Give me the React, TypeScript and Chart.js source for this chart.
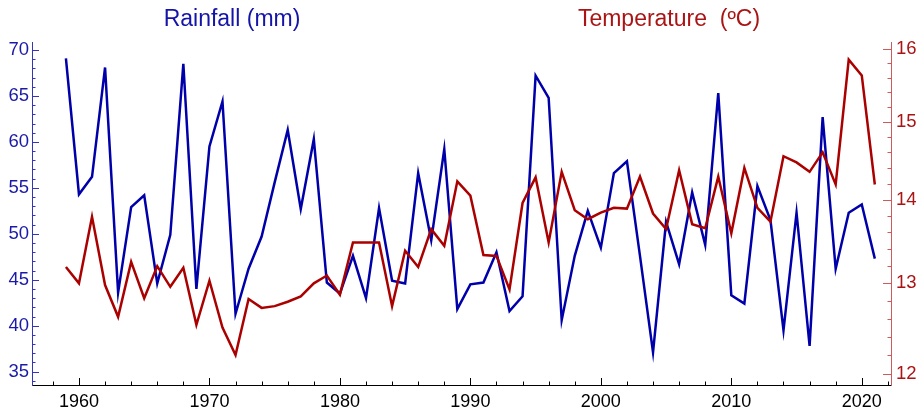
import React, { useEffect, useRef } from "react";
import { Chart, registerables } from "chart.js";

Chart.register(...registerables);

const YEARS = [
  1959, 1960, 1961, 1962, 1963, 1964, 1965, 1966, 1967, 1968,
  1969, 1970, 1971, 1972, 1973, 1974, 1975, 1976, 1977, 1978,
  1979, 1980, 1981, 1982, 1983, 1984, 1985, 1986, 1987, 1988,
  1989, 1990, 1991, 1992, 1993, 1994, 1995, 1996, 1997, 1998,
  1999, 2000, 2001, 2002, 2003, 2004, 2005, 2006, 2007, 2008,
  2009, 2010, 2011, 2012, 2013, 2014, 2015, 2016, 2017, 2018,
  2019, 2020, 2021,
];

const RAINFALL = [
  69.1, 54.3, 56.2, 68.1, 43.6, 52.9, 54.2, 44.6, 49.9, 68.5,
  44.0, 59.5, 64.4, 41.3, 46.2, 49.7, 55.6, 61.3, 52.7, 60.3,
  44.7, 43.5, 47.6, 43.0, 52.8, 44.9, 44.6, 56.6, 49.3, 59.2,
  41.8, 44.5, 44.7, 48.0, 41.6, 43.2, 67.2, 64.8, 40.6, 47.6,
  52.5, 48.5, 56.6, 57.9, 47.6, 37.1, 51.3, 46.7, 54.5, 48.8,
  65.3, 43.3, 42.4, 55.2, 51.5, 39.5, 52.3, 37.8, 62.7, 46.2,
  52.3, 53.2, 47.3,
];

const TEMPERATURE = [
  13.19, 13.0, 13.79, 12.98, 12.62, 13.25, 12.83, 13.2, 12.96, 13.18,
  12.53, 13.03, 12.5, 12.2, 12.82, 12.72, 12.74, 12.79, 12.85, 13.0,
  13.09, 12.87, 13.48, 13.48, 13.48, 12.74, 13.38, 13.19, 13.64, 13.44,
  14.23, 14.05, 13.33, 13.32, 12.93, 13.96, 14.28, 13.48, 14.35, 13.87,
  13.76, 13.84, 13.9, 13.89, 14.29, 13.83, 13.64, 14.37, 13.7, 13.65,
  14.29, 13.59, 14.4, 13.9, 13.73, 14.55, 14.47, 14.35, 14.6, 14.19,
  15.85, 15.63, 14.19,
];

const X_MAJOR = [1960, 1970, 1980, 1990, 2000, 2010, 2020];
const X_MINOR = [1958, 1962, 1964, 1966, 1968, 1972, 1974, 1976, 1978, 1982, 1984, 1986, 1988, 1992, 1994, 1996, 1998, 2002, 2004, 2006, 2008, 2012, 2014, 2016, 2018, 2022];
const RAIN_MAJOR = [35, 40, 45, 50, 55, 60, 65, 70];
const RAIN_MINOR = [34, 36, 37, 38, 39, 41, 42, 43, 44, 46, 47, 48, 49, 51, 52, 53, 54, 56, 57, 58, 59, 61, 62, 63, 64, 66, 67, 68, 69];
const TEMP_MAJOR = [12, 13, 14, 15, 16];
const TEMP_MINOR = [12.2, 12.4, 12.6, 12.8, 13.2, 13.4, 13.6, 13.8, 14.2, 14.4, 14.6, 14.8, 15.2, 15.4, 15.6, 15.8];

const BLUE = "#0000aa";
const RED = "#aa0000";
const FONT = "'Liberation Sans', Arial, sans-serif";

const tickPlugin = {
  id: "innerTicks",
  afterDraw(chart: any) {
    const ctx = chart.ctx;
    const area = chart.chartArea;
    const sx = chart.scales.x;
    const sy = chart.scales.y;
    const sy1 = chart.scales.y1;
    ctx.save();
    ctx.lineWidth = 1;
    ctx.strokeStyle = "#000000";
    const drawX = (vals: number[], len: number) => {
      vals.forEach((v) => {
        const px = Math.round(sx.getPixelForValue(v)) + 0.5;
        ctx.beginPath();
        ctx.moveTo(px, area.bottom);
        ctx.lineTo(px, area.bottom - len);
        ctx.stroke();
      });
    };
    drawX(X_MAJOR, 7);
    drawX(X_MINOR, 3.5);
    ctx.strokeStyle = "#3535b8";
    const drawL = (vals: number[], len: number) => {
      vals.forEach((v) => {
        const py = Math.round(sy.getPixelForValue(v)) + 0.5;
        ctx.beginPath();
        ctx.moveTo(area.left, py);
        ctx.lineTo(area.left + len, py);
        ctx.stroke();
      });
    };
    drawL(RAIN_MAJOR, 7);
    drawL(RAIN_MINOR, 3.5);
    ctx.strokeStyle = "#cc5c5c";
    const drawR = (vals: number[], len: number) => {
      vals.forEach((v) => {
        const py = Math.round(sy1.getPixelForValue(v)) + 0.5;
        ctx.beginPath();
        ctx.moveTo(area.right, py);
        ctx.lineTo(area.right - len, py);
        ctx.stroke();
      });
    };
    drawR(TEMP_MAJOR, 8);
    drawR(TEMP_MINOR, 3.5);
    ctx.font = "23px " + FONT;
    ctx.textAlign = "center";
    ctx.textBaseline = "middle";
    ctx.fillStyle = "#1414a8";
    ctx.fillText("Rainfall (mm)", 232, 20);
    ctx.fillStyle = "#aa1414";
    ctx.fillText("Temperature  (\u00baC)", 669, 20);
    ctx.restore();
  },
};

export default function App() {
  const ref = useRef<HTMLCanvasElement | null>(null);
  useEffect(() => {
    if (!ref.current) return;
    const chart = new Chart(ref.current, {
      type: "line",
      data: {
        datasets: [
          {
            label: "Temperature",
            data: YEARS.map((y, i) => ({ x: y, y: TEMPERATURE[i] })),
            borderColor: RED,
            borderWidth: 2.5,
            pointRadius: 0,
            tension: 0,
            yAxisID: "y1",
            order: 0,
          },
          {
            label: "Rainfall",
            data: YEARS.map((y, i) => ({ x: y, y: RAINFALL[i] })),
            borderColor: BLUE,
            borderWidth: 2.5,
            pointRadius: 0,
            tension: 0,
            yAxisID: "y",
            order: 1,
          },
        ],
      },
      plugins: [tickPlugin],
      options: {
        responsive: false,
        animation: false,
        devicePixelRatio: 1,
        layout: { padding: { top: 42, left: 0, right: 0, bottom: 0 } },
        plugins: {
          legend: { display: false },
          tooltip: { enabled: false },
          title: { display: false },
        },
        scales: {
          x: {
            type: "linear",
            position: "bottom",
            min: 1956.4,
            max: 2022.24,
            afterBuildTicks: (s: any) => {
              s.ticks = X_MAJOR.map((v) => ({ value: v }));
            },
            afterFit: (s: any) => {
              s.height = 25;
            },
            grid: { display: false, drawTicks: false },
            border: { display: true, color: "#000000", width: 1 },
            ticks: {
              color: "#000000",
              font: { family: FONT, size: 18 },
              padding: 6,
              maxRotation: 0,
              autoSkip: false,
              callback: (v: any) => String(v),
            },
          },
          y: {
            type: "linear",
            position: "left",
            min: 33.55,
            max: 70.87,
            afterBuildTicks: (s: any) => {
              s.ticks = RAIN_MAJOR.map((v) => ({ value: v }));
            },
            afterFit: (s: any) => {
              s.width = 32;
            },
            grid: { display: false, drawTicks: false },
            border: { display: true, color: "#3535b8", width: 1 },
            ticks: {
              color: "#1a1aa8",
              font: { family: FONT, size: 18.5 },
              padding: 3,
              autoSkip: false,
              callback: (v: any) => String(v),
            },
          },
          y1: {
            type: "logarithmic",
            position: "right",
            min: 11.88,
            max: 16.1,
            afterBuildTicks: (s: any) => {
              s.ticks = TEMP_MAJOR.map((v) => ({ value: v }));
            },
            afterFit: (s: any) => {
              s.width = 30;
            },
            grid: { display: false, drawTicks: false },
            border: { display: true, color: "#cc5c5c", width: 1 },
            ticks: {
              color: "#aa1414",
              font: { family: FONT, size: 18.5 },
              padding: 5,
              autoSkip: false,
              callback: (v: any) => String(v),
            },
          },
        },
      },
    } as any);
    return () => chart.destroy();
  }, []);
  return (
    <div style={{ position: "absolute", left: 0, top: 0, width: 921, height: 410, background: "#ffffff" }}>
      <canvas ref={ref} width={921} height={410} style={{ display: "block", width: 921, height: 410 }} />
    </div>
  );
}
